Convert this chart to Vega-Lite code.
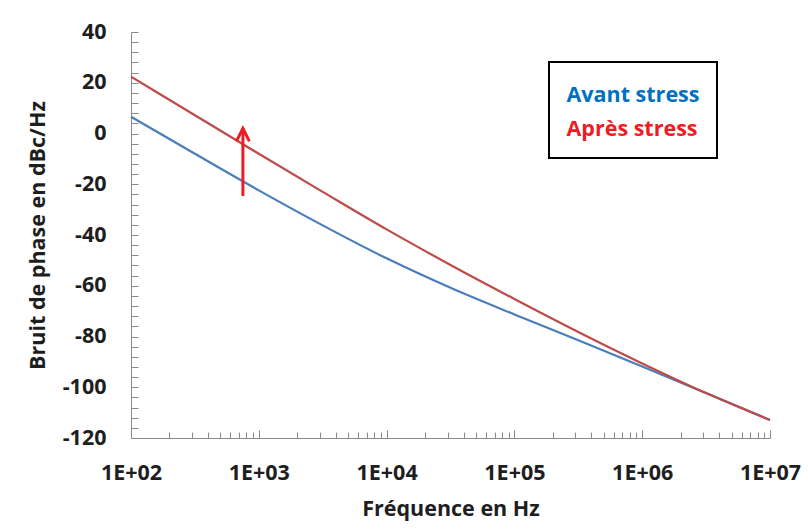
{
  "$schema": "https://vega.github.io/schema/vega-lite/v6.json",
  "width": 639,
  "height": 406,
  "autosize": {"type": "none"},
  "padding": {"left": 131, "top": 32, "right": 38, "bottom": 93},
  "background": "white",
  "config": {
    "view": {"stroke": null},
    "font": "Open Sans",
    "axis": {
      "grid": false,
      "domainColor": "#898989",
      "tickColor": "#898989",
      "labelColor": "#1E1E1E",
      "titleColor": "#1E1E1E",
      "labelFont": "Open Sans",
      "titleFont": "Open Sans",
      "labelFontSize": 21.5,
      "titleFontSize": 21.5,
      "labelFontWeight": "bold",
      "titleFontWeight": "bold"
    }
  },
  "datasets": {
    "curves": [
      {"freq": 100, "db": 6.6, "serie": "Avant stress"},
      {"freq": 316.2, "db": -8.0, "serie": "Avant stress"},
      {"freq": 1000, "db": -22.4, "serie": "Avant stress"},
      {"freq": 3162, "db": -36.2, "serie": "Avant stress"},
      {"freq": 10000, "db": -49.2, "serie": "Avant stress"},
      {"freq": 31620, "db": -60.8, "serie": "Avant stress"},
      {"freq": 100000, "db": -71.3, "serie": "Avant stress"},
      {"freq": 316200, "db": -81.5, "serie": "Avant stress"},
      {"freq": 1000000, "db": -91.8, "serie": "Avant stress"},
      {"freq": 3162000, "db": -102.3, "serie": "Avant stress"},
      {"freq": 10000000, "db": -112.9, "serie": "Avant stress"},
      {"freq": 100, "db": 22.4, "serie": "Après stress"},
      {"freq": 316.2, "db": 7.2, "serie": "Après stress"},
      {"freq": 1000, "db": -8.0, "serie": "Après stress"},
      {"freq": 3162, "db": -23.0, "serie": "Après stress"},
      {"freq": 10000, "db": -37.8, "serie": "Après stress"},
      {"freq": 31620, "db": -51.8, "serie": "Après stress"},
      {"freq": 100000, "db": -65.2, "serie": "Après stress"},
      {"freq": 316200, "db": -78.2, "serie": "Après stress"},
      {"freq": 1000000, "db": -90.6, "serie": "Après stress"},
      {"freq": 3162000, "db": -102.3, "serie": "Après stress"},
      {"freq": 10000000, "db": -112.9, "serie": "Après stress"}
    ],
    "arrow": [{"freq": 751, "low": -24.6, "high": 2.0}]
  },
  "layer": [
    {
      "data": {"name": "curves"},
      "mark": {"type": "line", "strokeWidth": 2.2, "interpolate": "monotone"},
      "encoding": {
        "x": {
          "field": "freq",
          "type": "quantitative",
          "scale": {"type": "log", "domain": [100, 10000000]},
          "axis": {
            "orient": "bottom",
            "title": "Fréquence en Hz",
            "values": [100, 1000, 10000, 100000, 1000000, 10000000],
            "labelExpr": "'1E+0' + round(log(datum.value)/LN10)",
            "ticks": false,
            "labelPadding": 24,
            "titlePadding": 15,
            "labelFlush": false
          }
        },
        "y": {
          "field": "db",
          "type": "quantitative",
          "scale": {"domain": [-120, 40], "nice": false, "zero": false},
          "axis": {
            "orient": "left",
            "title": "Bruit de phase en dBc/Hz",
            "values": [-120, -100, -80, -60, -40, -20, 0, 20, 40],
            "labelExpr": "'' + datum.value",
            "ticks": false,
            "labelPadding": 25,
            "titlePadding": 13
          }
        },
        "color": {
          "field": "serie",
          "type": "nominal",
          "scale": {"domain": ["Avant stress", "Après stress"], "range": ["#4A7EBB", "#BE4B48"]},
          "legend": {
            "orient": "none",
            "legendX": 418,
            "legendY": 30,
            "title": " ",
            "titleFontSize": 1,
            "titlePadding": 5.5,
            "direction": "vertical",
            "labelFont": "Open Sans",
            "labelFontSize": 21.5,
            "labelFontWeight": "bold",
            "labelLimit": 300,
            "symbolType": "circle",
            "symbolSize": 1,
            "symbolStrokeWidth": 0,
            "symbolOpacity": 0,
            "labelOffset": -21,
            "rowPadding": 10.5,
            "padding": 17,
            "strokeColor": "black",
            "fillColor": "white",
            "encode": {
              "labels": {"update": {"fill": {"signal": "datum.value === 'Avant stress' ? '#0070C0' : '#ED1C24'"}}},
              "legend": {"update": {"strokeWidth": {"value": 2}}}
            }
          }
        }
      }
    },
    {
      "data": {"name": "arrow"},
      "mark": {"type": "rule", "color": "#ED1C24", "strokeWidth": 3},
      "encoding": {
        "x": {
          "field": "freq",
          "type": "quantitative",
          "axis": {
            "orient": "bottom",
            "title": null,
            "labels": false,
            "domain": false,
            "values": [100, 1000, 10000, 100000, 1000000, 10000000],
            "tickSize": -8
          }
        },
        "y": {
          "field": "low",
          "type": "quantitative",
          "axis": {
            "orient": "left",
            "title": null,
            "labels": false,
            "domain": false,
            "values": [-120, -116, -112, -108, -104, -100, -96, -92, -88, -84, -80, -76, -72, -68, -64, -60, -56, -52, -48, -44, -40, -36, -32, -28, -24, -20, -16, -12, -8, -4, 0, 4, 8, 12, 16, 20, 24, 28, 32, 36, 40],
            "tickSize": -7
          }
        },
        "y2": {"field": "high"}
      }
    },
    {
      "data": {"name": "arrow"},
      "mark": {"type": "point", "shape": "M-1,2L0,0L1,2", "size": 169, "filled": false, "stroke": "#ED1C24", "strokeWidth": 3, "opacity": 1, "strokeJoin": "miter"},
      "encoding": {
        "x": {
          "field": "freq",
          "type": "quantitative",
          "axis": {
            "orient": "bottom",
            "title": null,
            "labels": false,
            "domain": false,
            "values": [200, 300, 400, 500, 600, 700, 800, 900, 2000, 3000, 4000, 5000, 6000, 7000, 8000, 9000, 20000, 30000, 40000, 50000, 60000, 70000, 80000, 90000, 200000, 300000, 400000, 500000, 600000, 700000, 800000, 900000, 2000000, 3000000, 4000000, 5000000, 6000000, 7000000, 8000000, 9000000],
            "tickSize": -6
          }
        },
        "y": {"field": "high", "type": "quantitative", "axis": null}
      }
    }
  ],
  "resolve": {"axis": {"x": "independent", "y": "independent"}}
}
